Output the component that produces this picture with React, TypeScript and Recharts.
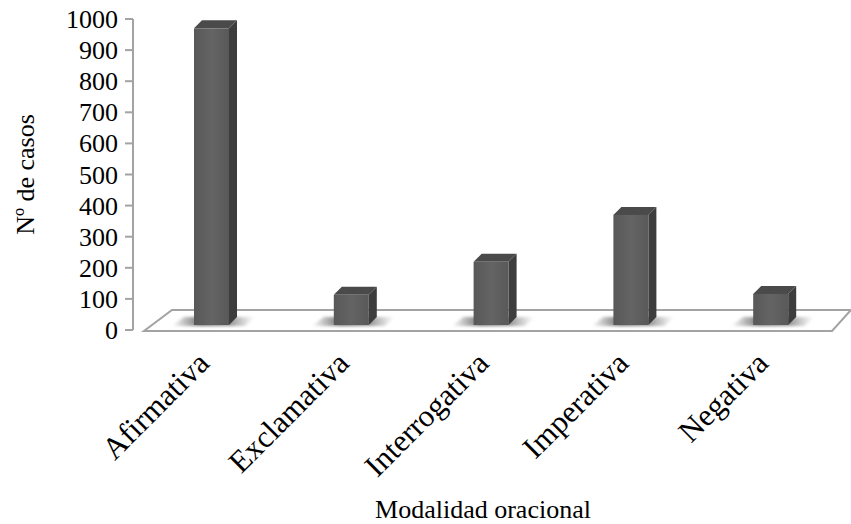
import { Bar, BarChart, ReferenceArea, XAxis, YAxis } from "recharts";

const modalidades = [
  "Afirmativa",
  "Exclamativa",
  "Interrogativa",
  "Imperativa",
  "Negativa",
];
const casos = [954, 97, 203, 354, 100];
const yTicks = [0, 100, 200, 300, 400, 500, 600, 700, 800, 900, 1000];

const data = modalidades.map((m, i) => ({ modalidad: m, casos: casos[i] }));

const FONT = '"Liberation Serif", "Times New Roman", serif';
const AXIS_GREY = "#a3a3a3";
// depth of the extruded bars and how far they sit behind the front edge of the floor
const DEPTH = 8;
const LIFT = 5;

const textStyle = (size: number) => ({
  fontFamily: FONT,
  fontSize: size,
  fill: "#000",
});

// white floor plane drawn under the plot area
function Floor(props: any) {
  const { x, y, width, height } = props;
  const bottom = y + height;
  const pts = [
    [x + 2, bottom + 1],
    [x + width - 9, bottom + 1],
    [x + width + 10, bottom - 20],
    [x + 30, bottom - 20],
  ]
    .map((p) => p.join(","))
    .join(" ");
  return (
    <g>
      <defs>
        <linearGradient id="frontFace" x1="0" y1="0" x2="1" y2="0">
          <stop offset="0%" stopColor="#585858" />
          <stop offset="50%" stopColor="#646464" />
          <stop offset="100%" stopColor="#595959" />
        </linearGradient>
        <linearGradient id="shade" x1="0" y1="0" x2="1" y2="0">
          <stop offset="0%" stopColor="#555" stopOpacity={0} />
          <stop offset="35%" stopColor="#555" stopOpacity={0.85} />
          <stop offset="70%" stopColor="#666" stopOpacity={0.7} />
          <stop offset="100%" stopColor="#888" stopOpacity={0} />
        </linearGradient>
        <filter id="soft" x="-50%" y="-50%" width="200%" height="200%">
          <feGaussianBlur stdDeviation="1.8" />
        </filter>
      </defs>
      <polygon points={pts} fill="#fff" stroke={AXIS_GREY} strokeWidth={2} />
    </g>
  );
}

function Bar3D(props: any) {
  const { x, y, width, height } = props;
  const top = y - LIFT;
  const bottom = y + height - LIFT;
  const w = width;
  return (
    <g>
      <polygon
        points={`${x - 22},${bottom + 1} ${x + w + 16},${bottom + 1} ${x + w + 26},${bottom - 8} ${x - 10},${bottom - 8}`}
        fill="url(#shade)"
        filter="url(#soft)"
      />
      <polygon
        points={`${x + w},${top} ${x + w + DEPTH},${top - DEPTH} ${x + w + DEPTH},${bottom - DEPTH} ${x + w},${bottom}`}
        fill="#3d3d3d"
      />
      <polygon
        points={`${x},${top} ${x + DEPTH},${top - DEPTH} ${x + w + DEPTH},${top - DEPTH} ${x + w},${top}`}
        fill="#4a4a4a"
      />
      <rect x={x} y={top} width={w} height={bottom - top} fill="url(#frontFace)" />
    </g>
  );
}

function YTick(props: any) {
  const { x, y, payload } = props;
  return (
    <text x={x - 5} y={y + 9} textAnchor="end" style={textStyle(26)}>
      {payload.value}
    </text>
  );
}

function XTick(props: any) {
  const { x, y, payload } = props;
  const ax = x - 1;
  const ay = y + 27;
  return (
    <text
      x={ax}
      y={ay}
      textAnchor="end"
      style={textStyle(31)}
      transform={`rotate(-45, ${ax}, ${ay})`}
    >
      {payload.value}
    </text>
  );
}

function YTitle(props: any) {
  const vb = props.viewBox || { x: 0, y: 19, width: 133, height: 311 };
  const cx = vb.x + 34;
  const cy = vb.y + vb.height / 2;
  return (
    <text
      x={cx}
      y={cy}
      textAnchor="middle"
      style={textStyle(26)}
      transform={`rotate(-90, ${cx}, ${cy})`}
    >
      Nº de casos
    </text>
  );
}

function XTitle(props: any) {
  const vb = props.viewBox || { x: 133, y: 330, width: 708, height: 194 };
  return (
    <text
      x={vb.x + vb.width / 2 - 4}
      y={vb.y + vb.height - 6}
      textAnchor="middle"
      style={textStyle(26)}
    >
      Modalidad oracional
    </text>
  );
}

export default function App() {
  return (
    <div style={{ position: "absolute", left: 0, top: 0, background: "#fff" }}>
      <BarChart
        width={851}
        height={524}
        data={data}
        margin={{ top: 19, right: 10, left: 0, bottom: 0 }}
        barSize={35}
      >
        <XAxis
          dataKey="modalidad"
          height={194}
          axisLine={false}
          tickLine={false}
          interval={0}
          padding={{ left: 9, right: 0 }}
          tick={<XTick />}
          label={{ content: <XTitle /> }}
        />
        <YAxis
          width={133}
          domain={[0, 1000]}
          ticks={yTicks}
          interval={0}
          axisLine={{ stroke: AXIS_GREY, strokeWidth: 2 }}
          tickLine={{ stroke: AXIS_GREY, strokeWidth: 2 }}
          tickSize={8}
          tick={<YTick />}
          label={{ content: <YTitle /> }}
        />
        <ReferenceArea
          y1={0}
          y2={1000}
          shape={<Floor />}
          ifOverflow="visible"
        />
        <Bar
          dataKey="casos"
          shape={<Bar3D />}
          isAnimationActive={false}
        />
      </BarChart>
    </div>
  );
}
